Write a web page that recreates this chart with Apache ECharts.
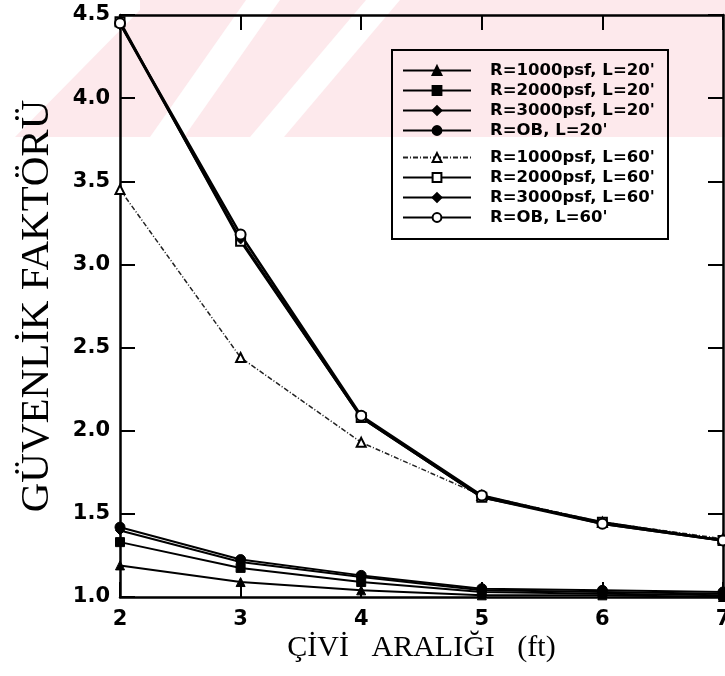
<!DOCTYPE html>
<html><head><meta charset="utf-8">
<script src="https://cdn.jsdelivr.net/npm/echarts@6/dist/echarts.min.js"></script>
<style>html,body{margin:0;padding:0;background:#fff}#c{width:725px;height:676px}</style>
</head><body><div id="c"></div>
<script>
// x: nail spacing (ft)
const spacing = [2, 3, 4, 5, 6, 7];
// y tick labels
const yTickLabels = ['1.0','1.5','2.0','2.5','3.0','3.5','4.0','4.5'];
// L = 20'
const r1000L20 = [1.19, 1.09, 1.04, 1.01, 1.01, 1.00];
const r2000L20 = [1.33, 1.175, 1.09, 1.03, 1.02, 1.01];
const r3000L20 = [1.40, 1.21, 1.12, 1.04, 1.03, 1.02];
const rOBL20   = [1.42, 1.225, 1.13, 1.05, 1.04, 1.03];
// L = 60'
const r1000L60 = [3.45, 2.44, 1.93, 1.61, 1.45, 1.35];
const r2000L60 = [4.46, 3.14, 2.08, 1.60, 1.45, 1.34];
const r3000L60 = [4.45, 3.15, 2.08, 1.60, 1.44, 1.34];
const rOBL60   = [4.45, 3.18, 2.09, 1.61, 1.44, 1.34];

const names = [
  "R=1000psf, L=20'", "R=2000psf, L=20'", "R=3000psf, L=20'", "R=OB, L=20'",
  "R=1000psf, L=60'", "R=2000psf, L=60'", "R=3000psf, L=60'", "R=OB, L=60'"
];
const values = [r1000L20, r2000L20, r3000L20, rOBL20, r1000L60, r2000L60, r3000L60, rOBL60];
const symbols = ['triangle','rect','diamond','circle','triangle','rect','diamond','circle'];
const filled  = [true,true,true,true,false,false,true,false];

const series = names.map((n, i) => ({
  name: n,
  type: 'line',
  data: spacing.map((x, k) => [x, values[i][k]]),
  symbol: symbols[i],
  symbolSize: symbols[i] === 'circle' ? 10 : 9,
  showAllSymbol: true,
  lineStyle: i === 4
    ? { color: '#222', width: 1.5, type: [5, 2, 1, 2] }
    : { color: '#000', width: i < 4 ? 2 : 2.5 },
  itemStyle: filled[i]
    ? { color: '#000', borderColor: '#000', borderWidth: 1 }
    : { color: '#fff', borderColor: '#000', borderWidth: 2 },
  emphasis: { disabled: true },
  z: 3
}));

const labelFont = { fontFamily: 'DejaVu Sans', fontWeight: 'bold', fontSize: 21, color: '#000' };
const axisLineStyle = { color: '#000', width: 2.5 };
const tickStyle = { show: true, inside: true, length: 15, lineStyle: { color: '#000', width: 2 } };

const legendCommon = {
  orient: 'vertical',
  left: 402,
  padding: 0,
  itemWidth: 68,
  itemHeight: 11,
  itemGap: 3,
  selectedMode: false,
  textStyle: { fontFamily: 'DejaVu Sans', fontWeight: 'bold', fontSize: 16.5, color: '#000', padding: [0, 0, 0, 14] }
};

// watermark stripes (decoration)
const pink = '#fde9ec';
const graphic = [
  { type: 'polygon', z: -100, shape: { points: [[15,137],[140,10],[140,0],[725,0],[725,137]] }, style: { fill: pink } },
  { type: 'polygon', z: -99, shape: { points: [[150,137],[184,137],[280,0],[246,0]] }, style: { fill: '#fff' } },
  { type: 'polygon', z: -99, shape: { points: [[250,137],[284,137],[400,0],[366,0]] }, style: { fill: '#fff' } },
  { type: 'rect', z: 10, shape: { x: 392, y: 50, width: 276, height: 189 }, style: { fill: 'none', stroke: '#000', lineWidth: 2 } }
];

const chart = echarts.init(document.getElementById('c'), null, { renderer: 'canvas' });
chart.setOption({
  animation: false,
  backgroundColor: '#fff',
  graphic: graphic,
  grid: { left: 120, right: 2, top: 15, bottom: 79, containLabel: false, outerBoundsMode: 'none' },
  legend: [
    Object.assign({}, legendCommon, { top: 62, data: names.slice(0, 4) }),
    Object.assign({}, legendCommon, { top: 149, data: names.slice(4) })
  ],
  xAxis: [
    {
      type: 'value', position: 'bottom', min: 2, max: 7, interval: 1,
      axisLine: { show: true, lineStyle: axisLineStyle },
      axisTick: tickStyle,
      splitLine: { show: false },
      axisLabel: Object.assign({ margin: 12 }, labelFont),
      name: 'ÇİVİ   ARALIĞI   (ft)',
      nameLocation: 'middle',
      nameGap: 51,
      nameMoveOverlap: false,
      nameTextStyle: { fontFamily: 'Liberation Serif', fontSize: 30, color: '#000', verticalAlign: 'middle' }
    },
    {
      type: 'value', position: 'top', min: 2, max: 7, interval: 1,
      axisLine: { show: true, lineStyle: axisLineStyle },
      axisTick: tickStyle, axisLabel: { show: false }, splitLine: { show: false }
    }
  ],
  yAxis: [
    {
      type: 'value', position: 'left', min: 1, max: 4.5, interval: 0.5,
      axisLine: { show: true, lineStyle: axisLineStyle },
      axisTick: tickStyle,
      splitLine: { show: false },
      axisLabel: Object.assign({ margin: 10, formatter: (v) => yTickLabels[Math.round((v - 1) / 0.5)] }, labelFont),
      name: 'GÜVENLİK FAKTÖRÜ',
      nameLocation: 'middle',
      nameGap: 62,
      nameRotate: 90,
      nameMoveOverlap: false,
      nameTextStyle: { fontFamily: 'Liberation Serif', fontSize: 41, color: '#000' }
    },
    {
      type: 'value', position: 'right', min: 1, max: 4.5, interval: 0.5,
      axisLine: { show: true, lineStyle: axisLineStyle },
      axisTick: tickStyle, axisLabel: { show: false }, splitLine: { show: false }
    }
  ],
  series: series
});
</script></body></html>
